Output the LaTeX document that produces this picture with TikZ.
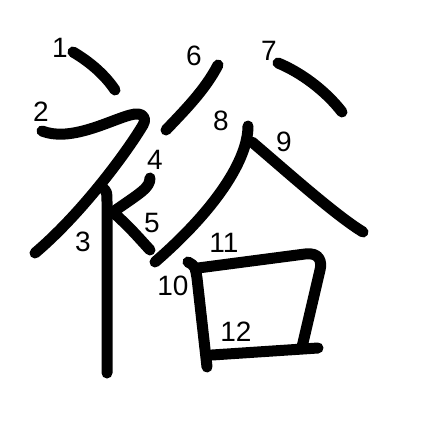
\documentclass[tikz,border=0pt]{standalone}
\usepackage{fontspec}
\setmainfont{Liberation Sans}
\begin{document}
\begin{tikzpicture}[x=1pt,y=-1pt,
  kstroke/.style={line width=11pt,line cap=round,line join=round},
  num/.style={inner sep=0pt,font=\fontsize{28}{28}\selectfont}]
\useasboundingbox (0,0) rectangle (447,447);
\fill[white] (0,0) rectangle (447,447);
% strokes
\draw[kstroke] (73,52) .. controls (90,62) and (105,75) .. (115,90);
\draw[kstroke] (42,131) .. controls (55,136) and (70,135) .. (90,129)
  .. controls (110,123) and (130,113) .. (138,114)
  .. controls (145,115) and (146,120) .. (143,125)
  .. controls (125,155) and (80,215) .. (35,253);
\draw[kstroke] (103,188) .. controls (107,192) .. (107,202) -- (107,373);
\draw[kstroke] (150,178) .. controls (150,188) and (140,193) .. (113,212);
\draw[kstroke] (113,212) .. controls (130,228) .. (150,250);
\draw[kstroke] (218,65) .. controls (205,90) and (185,110) .. (166,130);
\draw[kstroke] (278,63) .. controls (300,72) and (325,90) .. (342,112);
\draw[kstroke] (248,126) .. controls (248,160) and (215,210) .. (155,262);
\draw[kstroke] (252,142) .. controls (285,170) and (335,215) .. (363,232);
\draw[kstroke] (188,262) .. controls (195,266) .. (197,278) -- (207,367);
\draw[kstroke] (198,268) -- (305,254) .. controls (320,252) and (322,262) .. (320,270) -- (302,347);
\draw[kstroke] (212,355) -- (318,348);
% numbers
\node[num] (n1) at (60,48) {1};
\node[num] (n2) at (41,112) {2};
\node[num] (n3) at (83,242) {3};
\node[num] (n4) at (155,160) {4};
\node[num] (n5) at (152,223) {5};
\node[num] (n6) at (194,56) {6};
\node[num] (n7) at (269,51) {7};
\node[num] (n8) at (221,121) {8};
\node[num] (n9) at (284,142) {9};
\node[num] (n10) at (173,286) {10};
\node[num] (n11) at (224,243) {11};
\node[num] (n12) at (236,332) {12};
\end{tikzpicture}
\end{document}
